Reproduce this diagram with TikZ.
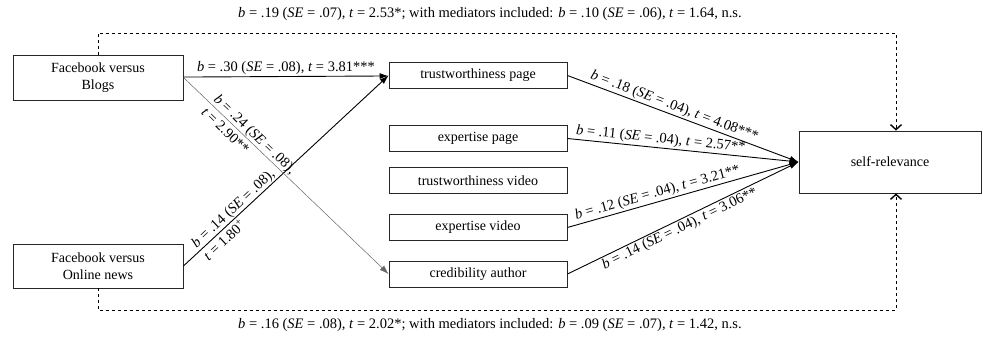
\documentclass[tikz,border=0pt]{standalone}
\usepackage{fontspec}
\setmainfont{Liberation Serif}
\usetikzlibrary{positioning,arrows.meta}

\begin{document}
\begin{tikzpicture}[x=1pt,y=-1pt]
	\tikzstyle{var}=[rectangle, draw=black!85, line width=0.9pt, align=center, inner sep=0pt, font=\fontsize{14}{17}\selectfont]
	\tikzstyle{med}=[var, minimum width=178pt, minimum height=26pt]
	\tikzstyle{connect}=[-{Latex[length=9pt,width=6pt]}, line width=0.9pt]
	\tikzstyle{indirect}=[-{Straight Barb[length=5pt,width=11pt,line width=1.4pt]}, dashed, line width=0.8pt]
	\tikzstyle{coef}=[font=\fontsize{14.5}{18}\selectfont, sloped, inner sep=1.5pt]
	\useasboundingbox (0,0) rectangle (983,337);
	\node[var, minimum width=170pt, minimum height=45pt] (blogs) at (98,77.5) {Facebook versus\\Blogs};
	\node[var, minimum width=170pt, minimum height=44pt] (news) at (98,266) {Facebook versus\\Online news};
	\node[med] (tpage) at (478,75.5) {trustworthiness page};
	\node[med] (epage) at (478,138.5) {expertise page};
	\node[med] (tvideo) [below=15pt of epage] {trustworthiness video};
	\node[med] (evideo) at (478,227.5) {expertise video};
	\node[med] (author) at (478,274) {credibility author};
	\node[var, minimum width=182pt, minimum height=62pt] (self) at (890,162) {self-relevance};
	\path (blogs) edge [connect] node[coef, above] {\textit{b} = .30 (\textit{SE} = .08), \textit{t} = 3.81***} (tpage)
	(news.east) edge [connect] node[coef, align=left, pos=.27] {\textit{b} = .14 (\textit{SE} = .08),\\\textit{t} = 1.80\textsuperscript{+}} (tpage.west)
	(blogs.east) edge [connect, draw=black!60, line width=0.5pt] node[coef, align=left, pos=.32] {\textit{b} = .24 (\textit{SE} = .08),\\\textit{t} = 2.90**} (author.west)
	(tpage.east) edge [connect] node[coef, above, pos=.45] {\textit{b} = .18 (\textit{SE} = .04), \textit{t} = 4.08***} (self.west)
	(epage.east) edge [connect] node[coef, above, pos=.4] {\textit{b} = .11 (\textit{SE} = .04), \textit{t} = 2.57**} (self.west)
	(evideo.east) edge [connect] node[coef, above, pos=.4] {\textit{b} = .12 (\textit{SE} = .04), \textit{t} = 3.21**} (self.west)
	(author.east) edge [connect] node[coef, below, pos=.47] {\textit{b} = .14 (\textit{SE} = .04), \textit{t} = 3.06**} (self.west);
	\coordinate (topin) at ([xshift=6pt]self.north);
	\coordinate (botin) at ([xshift=6pt]self.south);
	\draw[indirect] (blogs.north) |- (98,33) -| (topin);
	\draw[indirect] (news.south) |- (98,310) -| (botin);
	\node[coef, sloped=false] (total1) at (490,14) {\textit{b} = .19 (\textit{SE} = .07), \textit{t} = 2.53*; with mediators included: \textit{b} = .10 (\textit{SE} = .06), \textit{t} = 1.64, n.s.};
	\node[coef, sloped=false] (total2) at (490,325) {\textit{b} = .16 (\textit{SE} = .08), \textit{t} = 2.02*; with mediators included: \textit{b} = .09 (\textit{SE} = .07), \textit{t} = 1.42, n.s.};
\end{tikzpicture}
\end{document}
